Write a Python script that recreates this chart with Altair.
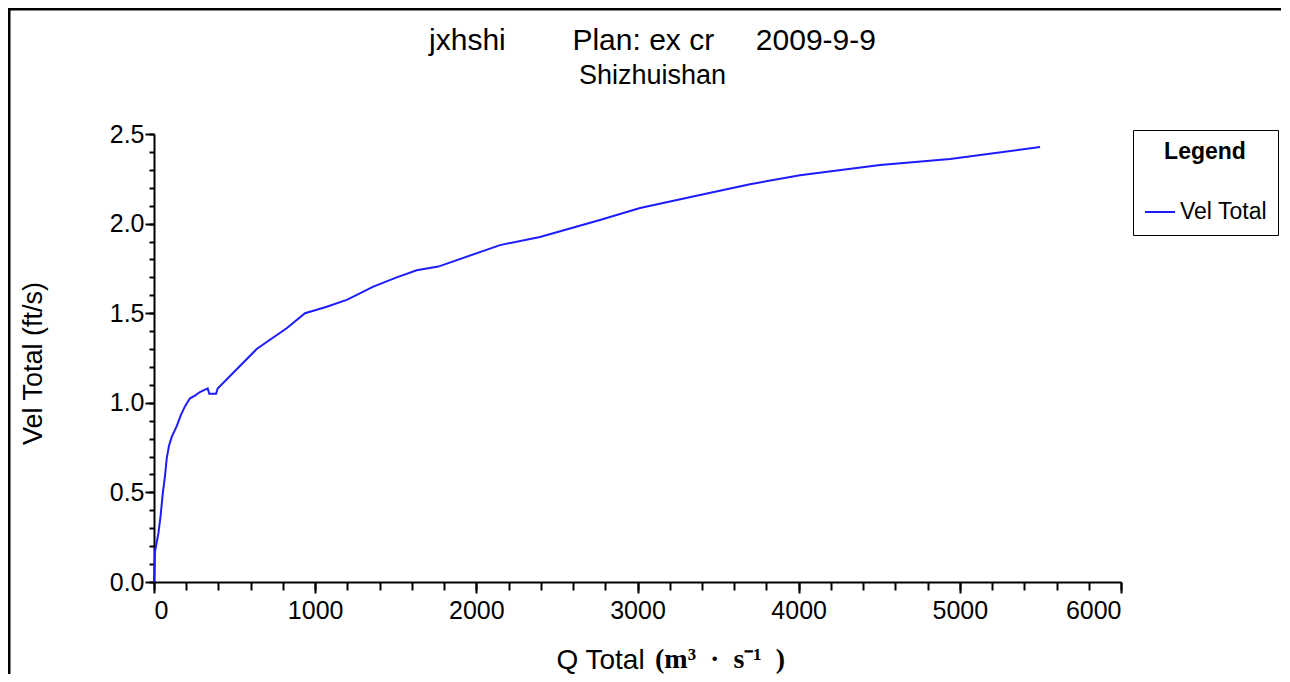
import altair as alt
import pandas as pd

# ---- data ----
q_total = [0, 6, 27, 41, 54, 68, 79, 93, 110, 141, 166, 192, 223, 254, 285, 333,
           343, 385, 395, 637, 823, 937, 989, 1072, 1196, 1361, 1506, 1630, 1764,
           2147, 2395, 2767, 3016, 3388, 3698, 4008, 4505, 4940, 5498]
vel_total = [0.0, 0.17, 0.27, 0.37, 0.49, 0.59, 0.69, 0.76, 0.81, 0.87, 0.93, 0.98,
             1.025, 1.04, 1.06, 1.08, 1.05, 1.05, 1.08, 1.30, 1.416, 1.50, 1.514,
             1.536, 1.574, 1.648, 1.70, 1.74, 1.76, 1.88, 1.925, 2.02, 2.087, 2.16,
             2.22, 2.27, 2.327, 2.36, 2.427]
series_names = ["Vel Total"]
series_colors = ["#1c1cff"]

x_major = [0, 1000, 2000, 3000, 4000, 5000, 6000]
y_major = [0.0, 0.5, 1.0, 1.5, 2.0, 2.5]
x_minor = [v for v in range(0, 6001, 200)]
y_minor = [round(i * 0.1, 1) for i in range(0, 26)]

NB = "\u00a0"
title_main = "jxhshi" + NB * 8 + "Plan: ex cr" + NB * 5 + "2009-9-9"
title_sub = "Shizhuishan"
x_title = "Q Total"
x_unit = ["(m³" + NB * 2 + "·" + NB * 2 + "s⁻¹" + NB * 2 + ")"]
y_title = "Vel Total (ft/s)"
legend_title = "Legend"

FONT = "Liberation Sans"

df = pd.DataFrame({"Q": q_total, "V": vel_total, "series": series_names[0]})

xs = alt.Scale(domain=[0, 6000], nice=False)
ys = alt.Scale(domain=[0, 2.5], nice=False)

main = alt.Chart(df).mark_line(strokeWidth=2).encode(
    x=alt.X("Q:Q", scale=xs, axis=alt.Axis(
        values=x_major, format="d", title=x_title, orient="bottom",
        tickSize=11, tickWidth=2, tickColor="black", domainColor="black", domainWidth=2,
        labelFont=FONT, labelFontSize=25, labelColor="black", labelPadding=5,
        titleFont=FONT, titleFontSize=28, titleFontWeight="normal", titleColor="black",
        titleX=446, titleY=86, titleAlign="center", titleBaseline="alphabetic",
        grid=False)),
    y=alt.Y("V:Q", scale=ys, axis=alt.Axis(
        values=y_major, format=".1f", title=y_title, orient="left",
        tickSize=9, tickWidth=2, tickColor="black", domainColor="black", domainWidth=2,
        labelFont=FONT, labelFontSize=25, labelColor="black", labelPadding=1,
        titleFont=FONT, titleFontSize=27, titleFontWeight="normal", titleColor="black",
        titleX=-121, titleY=229, titleAngle=270, titleAlign="center", titleBaseline="middle",
        grid=False)),
    color=alt.Color("series:N", scale=alt.Scale(domain=series_names, range=series_colors),
                    legend=alt.Legend(
                        title=legend_title, orient="none", legendX=979, legendY=-4,
                        strokeColor="black", fillColor="white", padding=11,
                        titleFont=FONT, titleFontSize=23, titleFontWeight="bold",
                        titleColor="black", titleAnchor="middle", titlePadding=32,
                        labelFont=FONT, labelFontSize=23, labelColor="black",
                        symbolType="stroke", symbolStrokeWidth=2, symbolSize=900)),
)

minor = alt.Chart(df).mark_line(opacity=0).encode(
    x=alt.X("Q:Q", scale=xs, axis=alt.Axis(
        values=x_minor, labels=False, title=None, orient="bottom", domain=False,
        tickSize=8, tickWidth=2, tickColor="black", grid=False)),
    y=alt.Y("V:Q", scale=ys, axis=alt.Axis(
        values=y_minor, labels=False, title=None, orient="left", domain=False,
        tickSize=5, tickWidth=2, tickColor="black", grid=False)),
)

unit_text = alt.Chart(pd.DataFrame({"t": x_unit})).mark_text(
    font="Liberation Serif", fontSize=28, fontWeight="bold", align="left",
    baseline="alphabetic", color="black"
).encode(text="t:N", x=alt.value(501), y=alt.value(534))

frame = pd.DataFrame({"k": [0]})
frame_left = alt.Chart(frame).mark_rule(color="black", strokeWidth=3).encode(
    x=alt.value(-145), y=alt.value(-126), y2=alt.value(620))
frame_top = alt.Chart(frame).mark_rule(color="black", strokeWidth=3).encode(
    x=alt.value(-146), x2=alt.value(1200), y=alt.value(-125))

chart = alt.layer(minor, main, unit_text, frame_left, frame_top).resolve_axis(
    x="independent", y="independent"
).properties(
    width=967, height=448,
    background="white",
    title=alt.TitleParams(
        text=title_main, subtitle=title_sub, anchor="middle", frame="group", dx=15,
        offset=-82,
        font=FONT, fontSize=30, fontWeight="normal", color="black",
        subtitleFont=FONT, subtitleFontSize=27, subtitleColor="black", subtitlePadding=7),
    autosize=alt.AutoSizeParams(type="none"),
    padding={"left": 146, "top": 126, "right": 160, "bottom": 92},
).configure_view(stroke=None)

chart.save("out.html", embed_options={"renderer": "svg", "actions": False})
